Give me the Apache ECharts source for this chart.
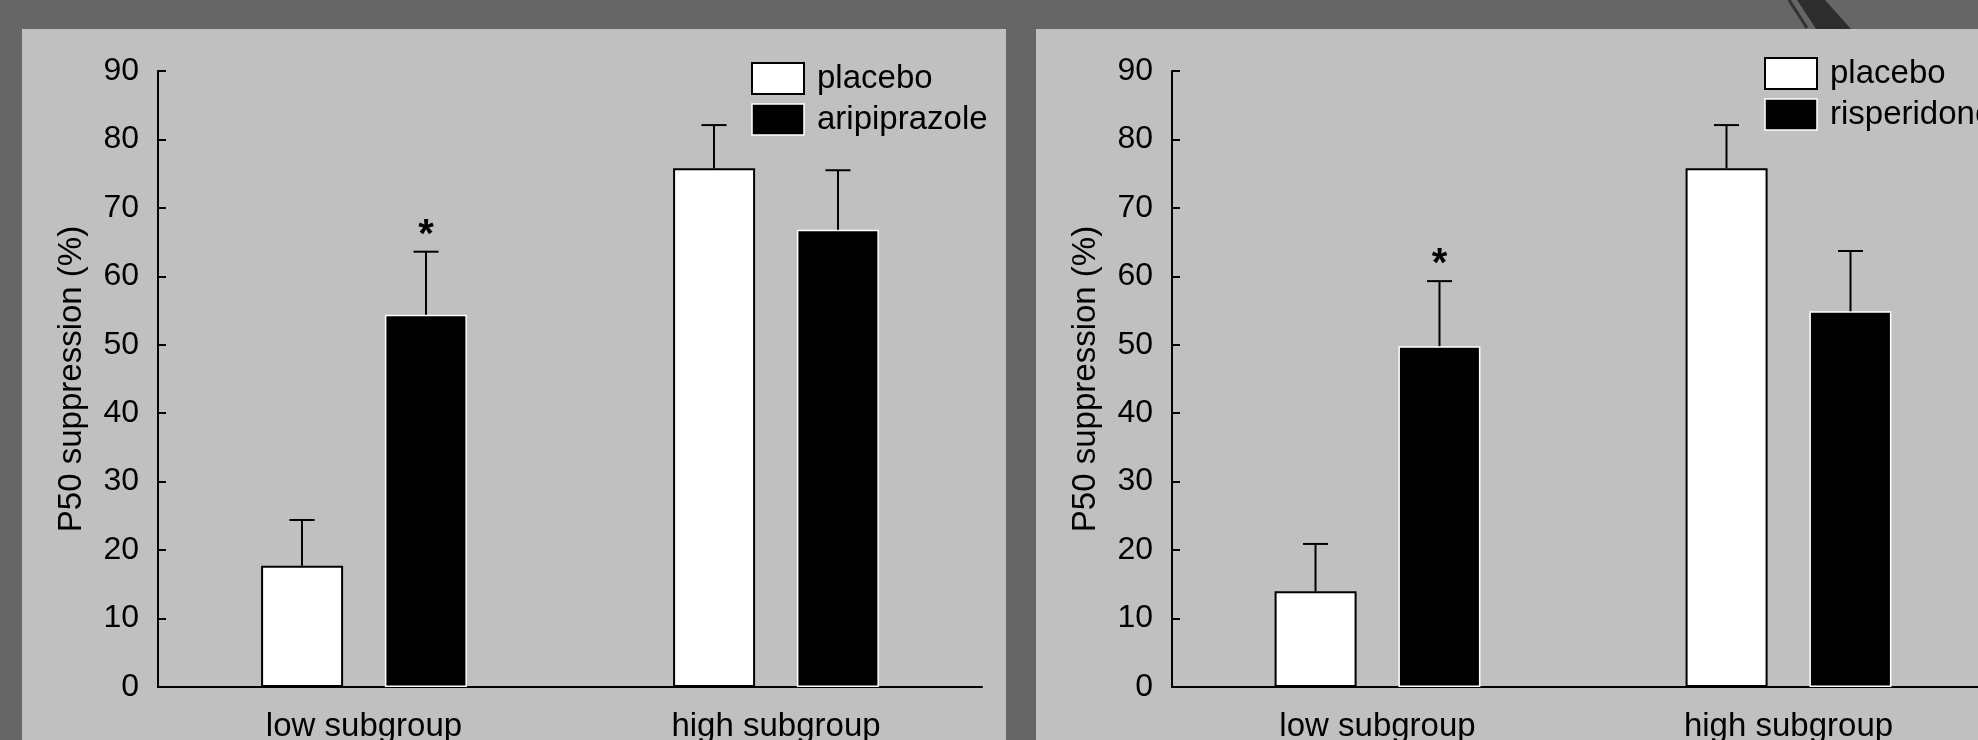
<!DOCTYPE html>
<html>
<head>
<meta charset="utf-8">
<script src="https://cdn.jsdelivr.net/npm/echarts@6/dist/echarts.min.js"></script>
<style>
html,body{margin:0;padding:0;background:#666666;overflow:hidden;}
#c{width:2000px;height:740px;}
</style>
</head>
<body>
<div id="c"></div>
<script>
// ---- data ----
const categories = ['low subgroup', 'high subgroup'];
const placeboA = [17.7, 75.8];
const placeboA_sem = [6.7, 6.3];
const aripiprazole = [54.4, 66.8];
const aripiprazole_sem = [9.2, 8.7];
const sigA = [1, 0];
const placeboR = [14.0, 75.8];
const placeboR_sem = [6.9, 6.3];
const risperidone = [49.8, 54.9];
const risperidone_sem = [9.5, 8.8];
const sigR = [1, 0];
const yMin = 0, yMax = 90, yStep = 10;

const FONT = '"Liberation Sans", Arial, sans-serif';
const placeboStyle = {color: '#ffffff', borderColor: '#000000', borderWidth: 2};
const drugStyle = {color: '#000000', borderColor: '#ffffff', borderWidth: 1.5};
const BAR_W = 82, BAR_GAP = '51%', OFF = 62;

function errData(means, sems, sig) {
  return means.map((m, i) => [i, m, sems[i], sig ? sig[i] : 0]);
}
function errRender(offset) {
  return function (params, api) {
    const i = api.value(0), m = api.value(1), s = api.value(2), sg = api.value(3);
    const p0 = api.coord([i, m]);
    const p1 = api.coord([i, m + s]);
    const x = p0[0] + offset;
    const ch = [
      {type: 'line', shape: {x1: x, y1: p0[1], x2: x, y2: p1[1]}, style: {stroke: '#000', lineWidth: 2}},
      {type: 'line', shape: {x1: x - 12.5, y1: p1[1], x2: x + 12.5, y2: p1[1]}, style: {stroke: '#000', lineWidth: 2}}
    ];
    if (sg) {
      ch.push({type: 'text', x: x, y: p1[1] - 16,
        style: {text: '*', fontSize: 40, fontWeight: 'bold', fontFamily: FONT, fill: '#000', align: 'center', verticalAlign: 'middle'}});
    }
    return {type: 'group', children: ch};
  };
}
function xAx(gi) {
  return {
    type: 'category', gridIndex: gi, data: categories,
    axisLine: {lineStyle: {color: '#000', width: 2}},
    axisTick: {show: false},
    axisLabel: {color: '#000', fontSize: 33, fontFamily: FONT, margin: 23}
  };
}
function yAx(gi) {
  return {
    type: 'value', gridIndex: gi, min: yMin, max: yMax, interval: yStep,
    name: 'P50 suppression (%)', nameLocation: 'middle', nameGap: 70,
    nameTextStyle: {color: '#000', fontSize: 33, fontFamily: FONT},
    axisLine: {show: true, lineStyle: {color: '#000', width: 2}},
    axisTick: {show: true, inside: true, length: 8, lineStyle: {color: '#000', width: 2}},
    axisLabel: {color: '#000', fontSize: 32, fontFamily: FONT, margin: 19},
    splitLine: {show: false}
  };
}

const chart = echarts.init(document.getElementById('c'), null, {renderer: 'canvas'});
chart.setOption({
  animation: false,
  backgroundColor: '#666666',
  graphic: [
    {type: 'rect', z: -10, shape: {x: 22, y: 29, width: 984, height: 720}, style: {fill: '#c0c0c0'}},
    {type: 'rect', z: -10, shape: {x: 1036, y: 29, width: 980, height: 720}, style: {fill: '#c0c0c0'}},
    {type: 'polygon', z: -10, shape: {points: [[1797, 0], [1825, 0], [1851, 29], [1816, 29]]}, style: {fill: '#2d2d2d'}},
    {type: 'line', z: -10, shape: {x1: 1789, y1: 0, x2: 1807, y2: 28}, style: {stroke: '#333333', lineWidth: 3}}
  ],
  grid: [
    {left: 158, top: 71, width: 824, height: 616, containLabel: false, outerBoundsMode: 'none'},
    {left: 1172, top: 71, width: 822, height: 616, containLabel: false, outerBoundsMode: 'none'}
  ],
  legend: [
    {left: 751, top: 62, orient: 'vertical', itemWidth: 52, itemHeight: 31, itemGap: 8, padding: 0,
     textStyle: {color: '#000', fontSize: 33, fontFamily: FONT, padding: [0, 0, 0, 8]}, selectedMode: false,
     data: [{name: 'placebo', icon: 'rect', itemStyle: placeboStyle}, {name: 'aripiprazole', icon: 'rect', itemStyle: drugStyle}]},
    {left: 1764, top: 57, orient: 'vertical', itemWidth: 52, itemHeight: 31, itemGap: 8, padding: 0,
     textStyle: {color: '#000', fontSize: 33, fontFamily: FONT, padding: [0, 0, 0, 8]}, selectedMode: false,
     data: [{name: 'placebo', icon: 'rect', itemStyle: placeboStyle}, {name: 'risperidone', icon: 'rect', itemStyle: drugStyle}]}
  ],
  xAxis: [xAx(0), xAx(1)],
  yAxis: [yAx(0), yAx(1)],
  series: [
    {name: 'placebo', type: 'bar', xAxisIndex: 0, yAxisIndex: 0, data: placeboA, barWidth: BAR_W, barGap: BAR_GAP, itemStyle: placeboStyle},
    {name: 'aripiprazole', type: 'bar', xAxisIndex: 0, yAxisIndex: 0, data: aripiprazole, barWidth: BAR_W, barGap: BAR_GAP, itemStyle: drugStyle},
    {type: 'custom', xAxisIndex: 0, yAxisIndex: 0, z: 5, data: errData(placeboA, placeboA_sem), renderItem: errRender(-OFF), encode: {x: 0, y: 1}},
    {type: 'custom', xAxisIndex: 0, yAxisIndex: 0, z: 5, data: errData(aripiprazole, aripiprazole_sem, sigA), renderItem: errRender(OFF), encode: {x: 0, y: 1}},
    {name: 'placebo', type: 'bar', xAxisIndex: 1, yAxisIndex: 1, data: placeboR, barWidth: BAR_W, barGap: BAR_GAP, itemStyle: placeboStyle},
    {name: 'risperidone', type: 'bar', xAxisIndex: 1, yAxisIndex: 1, data: risperidone, barWidth: BAR_W, barGap: BAR_GAP, itemStyle: drugStyle},
    {type: 'custom', xAxisIndex: 1, yAxisIndex: 1, z: 5, data: errData(placeboR, placeboR_sem), renderItem: errRender(-OFF), encode: {x: 0, y: 1}},
    {type: 'custom', xAxisIndex: 1, yAxisIndex: 1, z: 5, data: errData(risperidone, risperidone_sem, sigR), renderItem: errRender(OFF), encode: {x: 0, y: 1}}
  ]
});
</script>
</body>
</html>
